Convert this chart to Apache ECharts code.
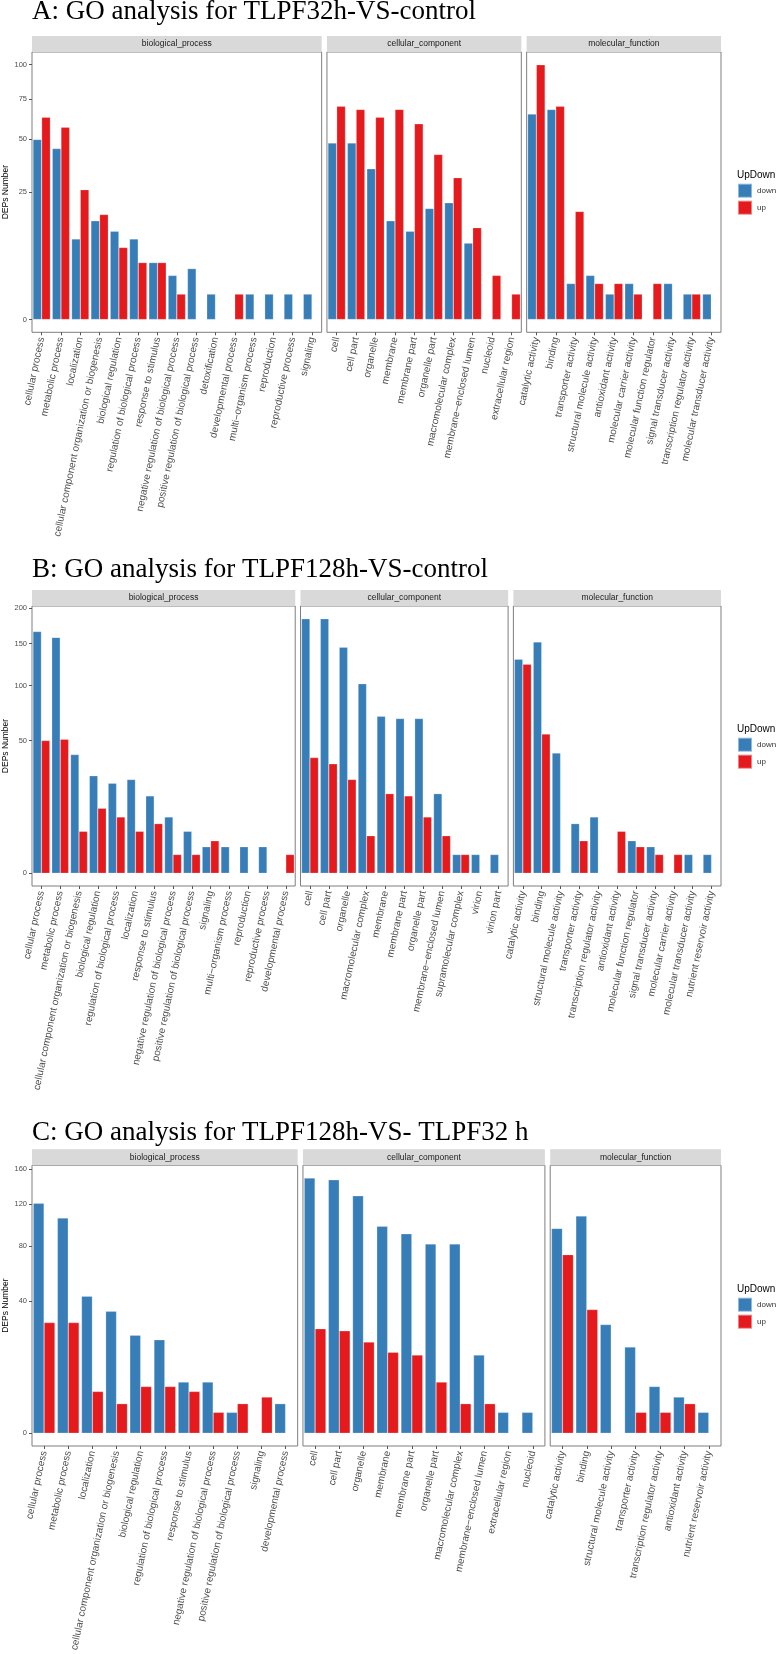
<!DOCTYPE html>
<html><head><meta charset="utf-8">
<script src="https://cdn.jsdelivr.net/npm/echarts@6/dist/echarts.min.js"></script>
<style>html,body{margin:0;padding:0;background:#fff}#c{width:776px;height:1654px}</style>
</head><body><div id="c"></div>
<script>
// ---------- data ----------
const titles = ["A: GO analysis for TLPF32h-VS-control", "B: GO analysis for TLPF128h-VS-control", "C: GO analysis for TLPF128h-VS- TLPF32 h"];
const facetNames = ["biological_process", "cellular_component", "molecular_function"];
const seriesNames = ["down", "up"];

const catsA_bp = ["cellular process","metabolic process","localization","cellular component organization or biogenesis","biological regulation","regulation of biological process","response to stimulus","negative regulation of biological process","positive regulation of biological process","detoxification","developmental process","multi\u2212organism process","reproduction","reproductive process","signaling"];
const downA_bp = [50,45,10,15,12,10,5,3,4,1,0,1,1,1,1];
const upA_bp   = [63,57,26,17,8,5,5,1,0,0,1,0,0,0,0];
const catsA_cc = ["cell","cell part","organelle","membrane","membrane part","organelle part","macromolecular complex","membrane\u2212enclosed lumen","nucleoid","extracellular region"];
const downA_cc = [48,48,35,15,12,19,21,9,0,0];
const upA_cc   = [70,68,63,68,59,42,31,13,3,1];
const catsA_mf = ["catalytic activity","binding","transporter activity","structural molecule activity","antioxidant activity","molecular carrier activity","molecular function regulator","signal transducer activity","transcription regulator activity","molecular transducer activity"];
const downA_mf = [65,68,2,3,1,2,0,2,1,1];
const upA_mf   = [100,70,18,2,2,1,2,0,1,0];
const yTicksA  = [0,25,50,75,100];

const catsB_bp = ["cellular process","metabolic process","cellular component organization or biogenesis","biological regulation","regulation of biological process","localization","response to stimulus","negative regulation of biological process","positive regulation of biological process","signaling","multi\u2212organism process","reproduction","reproductive process","developmental process"];
const downB_bp = [166,158,40,27,23,25,17,9,5,2,2,2,2,0];
const upB_bp   = [50,51,5,12,9,5,7,1,1,3,0,0,0,1];
const catsB_cc = ["cell","cell part","organelle","macromolecular complex","membrane","membrane part","organelle part","membrane\u2212enclosed lumen","supramolecular complex","virion","virion part"];
const downB_cc = [184,184,145,102,70,68,68,18,1,1,1];
const upB_cc   = [38,34,25,4,18,17,9,4,1,0,0];
const catsB_mf = ["catalytic activity","binding","structural molecule activity","transporter activity","transcription regulator activity","antioxidant activity","molecular function regulator","signal transducer activity","molecular carrier activity","molecular transducer activity","nutrient reservoir activity"];
const downB_mf = [130,152,41,7,9,0,3,2,0,1,1];
const upB_mf   = [124,55,0,3,0,5,2,1,1,0,0];
const yTicksB  = [0,50,100,150,200];

const catsC_bp = ["cellular process","metabolic process","localization","cellular component organization or biogenesis","biological regulation","regulation of biological process","response to stimulus","negative regulation of biological process","positive regulation of biological process","signaling","developmental process"];
const downC_bp = [121,106,43,34,22,20,6,6,1,0,2];
const upC_bp   = [28,28,4,2,5,5,4,1,2,3,0];
const catsC_cc = ["cell","cell part","organelle","membrane","membrane part","organelle part","macromolecular complex","membrane\u2212enclosed lumen","extracellular region","nucleoid"];
const downC_cc = [149,147,129,98,91,82,82,14,1,1];
const upC_cc   = [25,24,19,15,14,6,2,2,0,0];
const catsC_mf = ["catalytic activity","binding","structural molecule activity","transporter activity","transcription regulator activity","antioxidant activity","nutrient reservoir activity"];
const downC_mf = [96,108,27,17,5,3,1];
const upC_mf   = [73,35,0,1,1,2,0];
const yTicksC  = [0,40,80,120,160];

// ---------- layout (styles / positions) ----------
const COLORS = {down: "#377EB8", up: "#E41A1C"};
const SANS = "'Liberation Sans', Arial, sans-serif";
const SERIF = "'Liberation Serif', 'Times New Roman', serif";
const PANEL_LEFT = 32, PANEL_RIGHT = 721, GAP = 5.3, STRIP_H = 16;
const rows = [
  {title: titles[0], titleY: 12.4, top: 52,     bottom: 332.3, legendTitleY: 175,    legendTop: 182.7,
   facets: [[catsA_bp, downA_bp, upA_bp], [catsA_cc, downA_cc, upA_cc], [catsA_mf, downA_mf, upA_mf]], ticks: yTicksA},
  {title: titles[1], titleY: 569.7, top: 606,   bottom: 886,   legendTitleY: 729.3,  legendTop: 736.7,
   facets: [[catsB_bp, downB_bp, upB_bp], [catsB_cc, downB_cc, upB_cc], [catsB_mf, downB_mf, upB_mf]], ticks: yTicksB},
  {title: titles[2], titleY: 1133.4, top: 1165.3, bottom: 1446, legendTitleY: 1289.3, legendTop: 1296.7,
   facets: [[catsC_bp, downC_bp, upC_bp], [catsC_cc, downC_cc, upC_cc], [catsC_mf, downC_mf, upC_mf]], ticks: yTicksC}
];

const grids = [], xAxes = [], yAxes = [], series = [], graphics = [], legends = [];
let gi = 0;
rows.forEach((row, ri) => {
  const units = row.facets.map(f => f[0].length + 0.2);
  const totalUnits = units.reduce((a, b) => a + b, 0);
  const unitPx = (PANEL_RIGHT - PANEL_LEFT - 2 * GAP) / totalUnits;
  const h = row.bottom - row.top;
  // y range (sqrt scale with 5% expansion), from data
  let maxV = 0;
  row.facets.forEach(f => { f[1].concat(f[2]).forEach(v => { if (v > maxV) maxV = v; }); });
  const sMax = Math.sqrt(maxV), pad = 0.05 * sMax;
  let x = PANEL_LEFT;
  graphics.push({type: 'text', x: PANEL_LEFT, y: row.titleY, silent: true,
    style: {text: row.title, font: "27px " + SERIF, fill: "#000", align: 'left', verticalAlign: 'middle'}});
  row.facets.forEach((f, fi) => {
    const w = units[fi] * unitPx;
    grids.push({left: x, top: row.top, width: w, height: h, show: true, borderColor: '#7f7f7f', borderWidth: 1, backgroundColor: 'transparent'});
    // strip
    graphics.push({type: 'rect', silent: true, shape: {x: x, y: row.top - STRIP_H, width: w, height: STRIP_H}, style: {fill: '#d9d9d9'}});
    graphics.push({type: 'text', silent: true, x: x + w / 2, y: row.top - STRIP_H / 2,
      style: {text: facetNames[fi], font: "8.5px " + SANS, fill: '#1a1a1a', align: 'center', verticalAlign: 'middle'}});
    xAxes.push({type: 'category', gridIndex: gi, data: f[0], position: 'bottom',
      axisLine: {show: false, onZero: false},
      axisTick: {show: true, alignWithLabel: true, length: 3, lineStyle: {color: '#555', width: 1}},
      axisLabel: {interval: 0, rotate: 78, fontSize: 10, color: '#4d4d4d', margin: 5, fontFamily: SANS},
      splitLine: {show: false}});
    const first = fi === 0;
    yAxes.push({type: 'value', gridIndex: gi, min: -pad, max: sMax + pad,
      axisLine: {show: false},
      axisTick: {show: first, length: 3, customValues: row.ticks.map(Math.sqrt), lineStyle: {color: '#555'}},
      axisLabel: {show: first, customValues: row.ticks.map(Math.sqrt), fontSize: 7.5, color: '#4d4d4d', margin: 5, fontFamily: SANS,
        formatter: v => String(Math.round(v * v))},
      splitLine: {show: false},
      name: first ? 'DEPs Number' : '', nameLocation: 'middle', nameGap: 22,
      nameTextStyle: {fontSize: 8.5, color: '#000', fontFamily: SANS}});
    [f[1], f[2]].forEach((vals, si) => {
      series.push({type: 'bar', name: seriesNames[si], xAxisIndex: gi, yAxisIndex: gi,
        data: vals.map(v => v > 0 ? Math.sqrt(v) : '-'),
        barGap: '0%', barCategoryGap: '10%', silent: true,
        itemStyle: {color: COLORS[seriesNames[si]], borderColor: 'rgba(255,255,255,0.45)', borderWidth: 0.5}});
    });
    x += w + GAP;
    gi++;
  });
  // legend
  graphics.push({type: 'text', silent: true, x: 737, y: row.legendTitleY,
    style: {text: 'UpDown', font: "10px " + SANS, fill: '#000', align: 'left', verticalAlign: 'middle'}});
  legends.push({data: seriesNames, orient: 'vertical', left: 737, top: row.legendTop, padding: 0,
    itemWidth: 14, itemHeight: 14, itemGap: 1, icon: 'rect', selectedMode: false,
    textStyle: {fontSize: 8, color: '#333', fontFamily: SANS}});
});

const chart = echarts.init(document.getElementById('c'), null, {renderer: 'canvas'});
chart.setOption({
  animation: false,
  backgroundColor: '#fff',
  textStyle: {fontFamily: SANS},
  grid: grids, xAxis: xAxes, yAxis: yAxes, series: series,
  legend: legends, graphic: graphics
});
</script></body></html>
